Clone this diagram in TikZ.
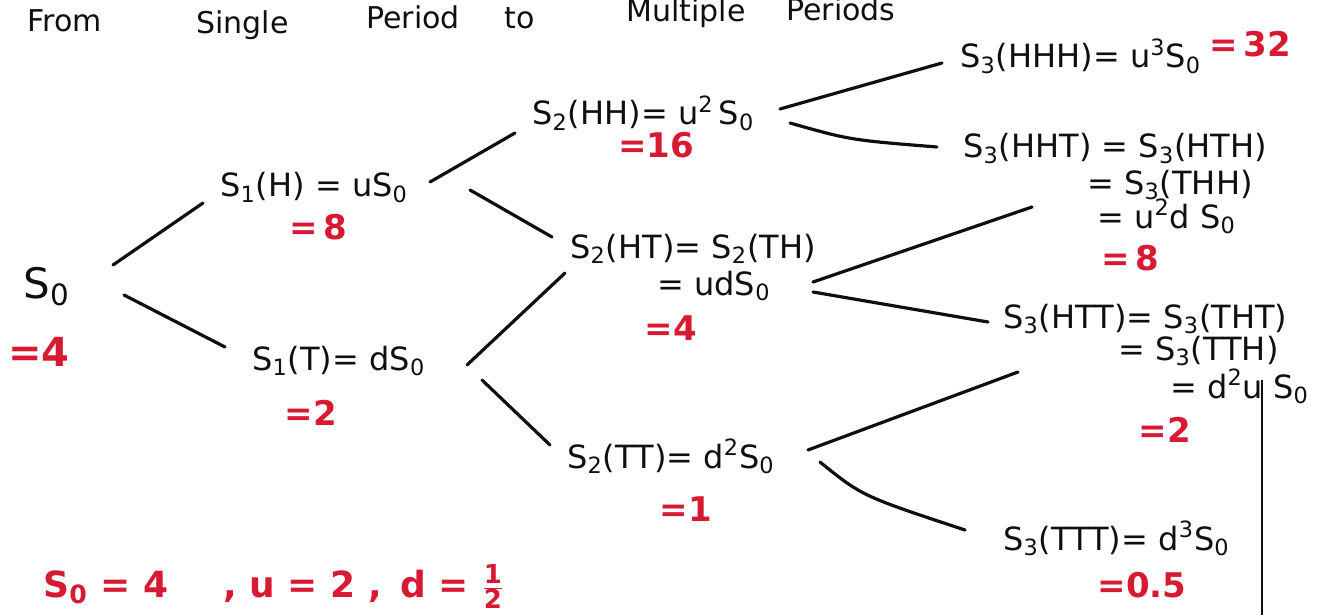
\documentclass[tikz,border=0pt]{standalone}
\usepackage{fontspec}
\setmainfont{DejaVu Sans}
\definecolor{pen}{RGB}{215,25,50}
\definecolor{ink}{RGB}{15,15,15}
\newcommand{\sbs}[1]{\textsubscript{#1}}
\newcommand{\sps}[1]{\textsuperscript{#1}}
\tikzset{
  lbl/.style={inner sep=0pt, anchor=base west, text=ink, font=\fontsize{16}{19}\selectfont},
  val/.style={inner sep=0pt, text=pen, font=\fontsize{17}{20}\selectfont\bfseries},
  ttl/.style={inner sep=0pt, anchor=base west, text=ink, font=\fontsize{15}{18}\selectfont},
  prm/.style={inner sep=0pt, anchor=base west, text=pen, font=\fontsize{18}{22}\selectfont\bfseries},
  br/.style={draw=ink, line width=1.6pt, line cap=round},
  thin/.style={draw=ink, line width=0.7pt},
}
\begin{document}
\begin{tikzpicture}[x=0.5pt,y=-0.5pt]
\useasboundingbox (0,0) rectangle (1334,615);
\fill[white] (0,0) rectangle (1334,615);
\clip (0,0) rectangle (1334,615);

% title
\node[ttl] (t1) at (27,32) {From};
\node[ttl] (t2) at (196,34) {Single};
\node[ttl] (t3) at (366,29) {Period};
\node[ttl] (t4) at (504,29) {to};
\node[ttl] (t5) at (626,22) {Multiple};
\node[ttl] (t6) at (786,21) {Periods};

% level 0
\node[lbl, font=\fontsize{21}{24}\selectfont] (s0) at (23,298) {S\sbs{0}};
\node[val, anchor=base west, font=\fontsize{20}{24}\selectfont\bfseries] (v0) at (8,366) {=4};

% level 1
\node[lbl] (s1h) at (220,197) {S\sbs{1}(H) = uS\sbs{0}};
\node[val] (v1h) at (318,227) {=\,8};
\node[lbl] (s1t) at (252,370) {S\sbs{1}(T)= dS\sbs{0}};
\node[val] (v1t) at (311,413) {=2};

% level 2
\node[lbl] (s2hh) at (532,125) {S\sbs{2}(HH)= u\sps{2}\,S\sbs{0}};
\node[val] (v2hh) at (656,145) {=16};
\node[lbl] (s2ht) at (570,258) {S\sbs{2}(HT)= S\sbs{2}(TH)};
\node[lbl] (s2htb) at (657,295) {= udS\sbs{0}};
\node[val] (v2ht) at (671,328) {=4};
\node[lbl] (s2tt) at (567,468) {S\sbs{2}(TT)= d\sps{2}S\sbs{0}};
\node[val] (v2tt) at (686,509) {=1};

% level 3
\node[lbl] (s3a) at (960,68) {S\sbs{3}(HHH)= u\sps{3}S\sbs{0}};
\node[val] (v3a) at (1250,44) {=\,32};
\node[lbl] (s3b) at (963,158) {S\sbs{3}(HHT) = S\sbs{3}(HTH)};
\node[lbl] (s3b2) at (1087,194) {= S\sbs{3}(THH)};
\node[lbl] (s3b3) at (1097,228) {= u\sps{2}d S\sbs{0}};
\node[val] (v3b) at (1130,258) {=\,8};
\node[lbl] (s3c) at (1003,328) {S\sbs{3}(HTT)= S\sbs{3}(THT)};
\node[lbl] (s3c2) at (1118,360) {= S\sbs{3}(TTH)};
\node[lbl] (s3c3) at (1170,398) {= d\sps{2}u S\sbs{0}};
\node[val] (v3c) at (1165,430) {=2};
\node[lbl] (s3d) at (1003,550) {S\sbs{3}(TTT)= d\sps{3}S\sbs{0}};
\node[val] (v3d) at (1142,585) {=0.5};

% parameters
\node[prm] (p1) at (43,597) {S\sbs{0} = 4};
\node[prm] (p2) at (223,597) {, u = 2 ,};
\node[prm] (p3) at (400,597) {d = $\frac{\mbox{\fontsize{13}{13}\selectfont\bfseries 1}}{\mbox{\fontsize{13}{13}\selectfont\bfseries 2}}$};

% branch end points
\coordinate (a0u) at (113,265); \coordinate (a1u) at (203,203);
\coordinate (a0d) at (124,295); \coordinate (a1d) at (225,347);
\coordinate (b0u) at (430,182); \coordinate (b1u) at (515,133);
\coordinate (b0d) at (470,190); \coordinate (b1d) at (552,237);
\coordinate (c0u) at (467,365); \coordinate (c1u) at (565,273);
\coordinate (c0d) at (482,380); \coordinate (c1d) at (550,445);
\coordinate (d0u) at (780,109); \coordinate (d1u) at (942,63);
\coordinate (d0d) at (790,123); \coordinate (d1d) at (937,147);
\coordinate (e0u) at (813,282); \coordinate (e1u) at (1032,207);
\coordinate (e0d) at (813,292); \coordinate (e1d) at (988,322);
\coordinate (f0u) at (808,450); \coordinate (f1u) at (1018,372);
\coordinate (f0d) at (820,462); \coordinate (f1d) at (965,530);
\coordinate (vt) at (1262,380); \coordinate (vb) at (1262,615);

\draw[br] (a0u) -- (a1u);
\draw[br] (a0d) -- (a1d);
\draw[br] (b0u) -- (b1u);
\draw[br] (b0d) -- (b1d);
\draw[br] (c0u) -- (c1u);
\draw[br] (c0d) -- (c1d);
\draw[br] (d0u) -- (d1u);
\draw[br] (d0d) .. controls (850,140) .. (d1d);
\draw[br] (e0u) -- (e1u);
\draw[br] (e0d) -- (e1d);
\draw[br] (f0u) -- (f1u);
\draw[br] (f0d) .. controls (862,496) .. (f1d);
\draw[thin] (vt) -- (vb);
\end{tikzpicture}
\end{document}
